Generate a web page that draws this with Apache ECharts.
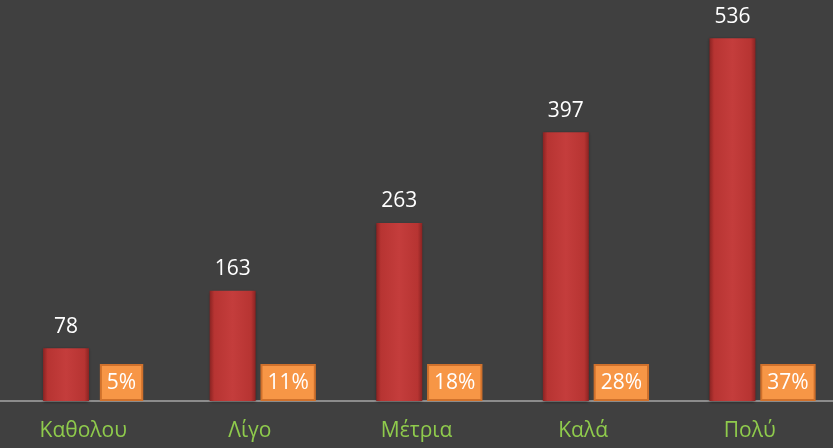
<!DOCTYPE html>
<html>
<head>
<meta charset="utf-8">
<script src="https://cdn.jsdelivr.net/npm/echarts@6/dist/echarts.min.js"></script>
<style>
  html, body { margin: 0; padding: 0; background: #404040; }
  #main { width: 833px; height: 448px; }
</style>
</head>
<body>
<div id="main"></div>
<script>
var categories = ['Καθολου', 'Λίγο', 'Μέτρια', 'Καλά', 'Πολύ'];
var counts = [78, 163, 263, 397, 536];
var percents = [5, 11, 18, 28, 37];

var font = '"Open Sans", "Noto Sans", sans-serif';

var barColor = new echarts.graphic.LinearGradient(0, 0, 1, 0, [
    { offset: 0, color: '#8a2322' },
    { offset: 0.1, color: '#b73432' },
    { offset: 0.5, color: '#c43d3c' },
    { offset: 0.9, color: '#b73432' },
    { offset: 1, color: '#8a2322' }
]);

var chart = echarts.init(document.getElementById('main'));
var option = {
    backgroundColor: '#404040',
    animation: false,
    grid: { left: 0, right: -2, top: 5, bottom: 47 },
    xAxis: {
        type: 'category',
        data: categories,
        axisLine: { lineStyle: { color: '#a6a6a6', width: 1.5 } },
        axisTick: { show: false },
        axisLabel: {
            color: '#8fcb4c',
            fontSize: 21,
            fontFamily: font,
            margin: 20
        }
    },
    yAxis: {
        type: 'value',
        min: 0,
        max: 585,
        show: false,
        splitLine: { show: false }
    },
    series: [
        {
            type: 'bar',
            data: counts,
            barWidth: 46,
            barGap: '-25%',
            itemStyle: {
                color: barColor,
                shadowBlur: 3,
                shadowColor: 'rgba(0,0,0,0.45)',
                shadowOffsetY: 1
            },
            label: {
                show: true,
                position: 'top',
                distance: 11,
                color: '#ffffff',
                fontSize: 21,
                fontFamily: font
            }
        },
        {
            type: 'bar',
            data: percents,
            barWidth: 46,
            itemStyle: { color: 'rgba(0,0,0,0)' },
            label: {
                show: true,
                position: 'insideBottom',
                distance: 2,
                offset: [21, 0],
                formatter: '{c}%',
                color: '#ffffff',
                fontSize: 21,
                fontFamily: font,
                lineHeight: 27,
                backgroundColor: '#f79646',
                borderColor: '#d0712c',
                borderWidth: 2,
                padding: [4, 5, 2, 5]
            }
        }
    ]
};
chart.setOption(option);

// top highlight strip of each bar, drawn from the bar layout
function addHighlights() {
    var g = [];
    counts.forEach(function (v, i) {
        var layout = chart.getModel().getSeriesByIndex(0).getData().getItemLayout(i);
        g.push({
            type: 'rect',
            shape: { x: layout.x + 2, y: layout.y + layout.height + 1, width: layout.width - 4, height: 5 },
            style: {
                fill: new echarts.graphic.LinearGradient(0, 0, 0, 1, [
                    { offset: 0, color: 'rgba(255,150,150,0.7)' },
                    { offset: 1, color: 'rgba(255,150,150,0)' }
                ])
            },
            silent: true
        });
    });
    chart.setOption({ graphic: g });
}
addHighlights();
</script>
</body>
</html>
